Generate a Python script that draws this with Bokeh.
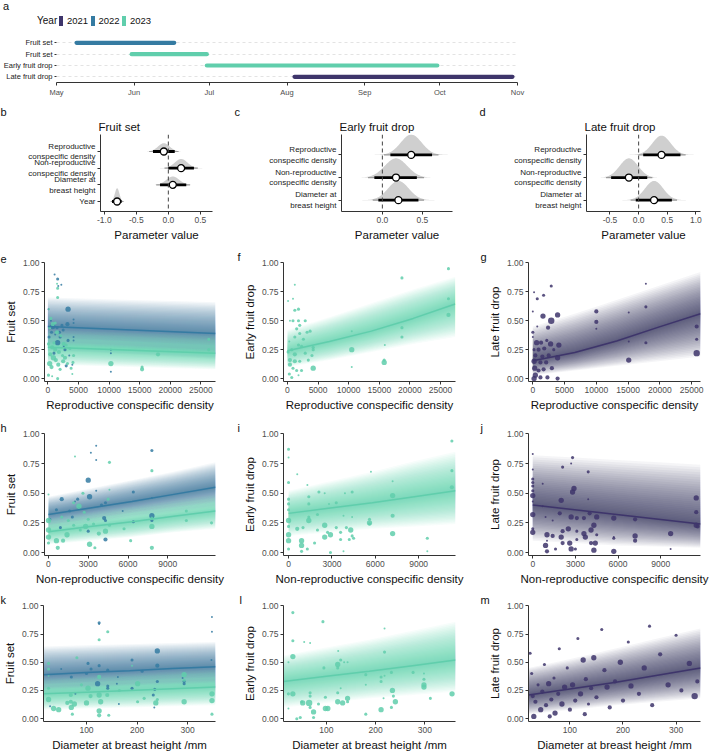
import numpy as np
from datetime import datetime
from bokeh.plotting import figure
from bokeh.models import (Range1d, FixedTicker, Span, Title, Div,
                          NumeralTickFormatter, MonthsTicker, DatetimeTickFormatter)
from bokeh.layouts import row, column
from bokeh.embed import file_html
from bokeh.resources import INLINE

FONT = "Liberation Sans"
YEAR_COLORS = {2021: "#3E356B", 2022: "#357BA2", 2023: "#60CEAC"}

# ---------------- panel a: sampling periods ----------------
A_LABELS = ["Fruit set", "Fruit set", "Early fruit drop", "Late fruit drop"]
A_YEARS = [2022, 2023, 2023, 2021]
A_START = ["2023-05-09", "2023-05-31", "2023-06-30", "2023-08-04"]
A_END = ["2023-06-17", "2023-06-30", "2023-09-30", "2023-10-30"]

# ---------------- panels b-d: posterior parameter estimates ----------------
B_LABELS = ["Reproductive\nconspecific density", "Non-reproductive\nconspecific density",
            "Diameter at\nbreast height", "Year"]
B_MU = [-0.07, 0.20, 0.07, -0.80]
B_SD = [0.09, 0.10, 0.10, 0.035]
B_LO66 = [-0.24, 0.00, -0.13, -0.88]
B_HI66 = [0.10, 0.40, 0.28, -0.73]
B_LO95 = [-0.30, -0.06, -0.19, -0.90]
B_HI95 = [0.16, 0.46, 0.34, -0.70]
B_HT = [0.5, 0.55, 0.5, 0.8]

C_LABELS = ["Reproductive\nconspecific density", "Non-reproductive\nconspecific density",
            "Diameter at\nbreast height"]
C_MU = [0.36, 0.17, 0.20]
C_SD = [0.13, 0.14, 0.13]
C_LO66 = [0.10, -0.10, -0.05]
C_HI66 = [0.62, 0.43, 0.45]
C_LO95 = [0.02, -0.18, -0.12]
C_HI95 = [0.70, 0.52, 0.52]
C_HT = [0.9, 0.85, 0.85]

D_MU = [0.40, -0.17, 0.27]
D_SD = [0.16, 0.16, 0.16]
D_LO66 = [0.08, -0.48, -0.05]
D_HI66 = [0.73, 0.15, 0.58]
D_LO95 = [0.00, -0.57, -0.14]
D_HI95 = [0.82, 0.24, 0.67]
D_HT = [0.85, 0.85, 0.85]

# ---------------- fitted curves (x, median, outer lower, outer upper) ----------------
FIT_E_X = [0, 6850, 13700, 20550, 27400]
FIT_E22 = ([0.45, 0.435, 0.42, 0.405, 0.39], [0.24, 0.23, 0.21, 0.19, 0.17], [0.70, 0.69, 0.68, 0.67, 0.66])
FIT_E23 = ([0.27, 0.258, 0.245, 0.233, 0.22], [0.12, 0.11, 0.10, 0.09, 0.08], [0.42, 0.41, 0.40, 0.39, 0.38])
FIT_F_X = [0, 6850, 13700, 20550, 27400]
FIT_F23 = ([0.24, 0.32, 0.41, 0.52, 0.645], [0.10, 0.16, 0.23, 0.30, 0.36], [0.42, 0.53, 0.65, 0.77, 0.88])
FIT_G_X = [0, 6600, 13200, 19800, 26400]
FIT_G21 = ([0.155, 0.225, 0.325, 0.445, 0.56], [0.03, 0.07, 0.11, 0.15, 0.19], [0.45, 0.56, 0.68, 0.80, 0.92])
FIT_H_X = [0, 3150, 6300, 9450, 12600]
FIT_H22 = ([0.32, 0.375, 0.43, 0.49, 0.55], [0.20, 0.25, 0.30, 0.34, 0.38], [0.47, 0.54, 0.61, 0.68, 0.76])
FIT_H23 = ([0.175, 0.22, 0.26, 0.305, 0.35], [0.07, 0.10, 0.13, 0.17, 0.20], [0.29, 0.34, 0.39, 0.44, 0.49])
FIT_I_X = [0, 2900, 5800, 8700, 11550]
FIT_I23 = ([0.33, 0.375, 0.42, 0.47, 0.52], [0.14, 0.17, 0.20, 0.22, 0.24], [0.52, 0.60, 0.68, 0.77, 0.85])
FIT_J_X = [0, 2950, 5900, 8850, 11800]
FIT_J21 = ([0.40, 0.36, 0.32, 0.28, 0.24], [0.10, 0.08, 0.06, 0.05, 0.04], [0.82, 0.80, 0.78, 0.76, 0.74])
FIT_K_X = [15, 100, 185, 270, 355]
FIT_K22 = ([0.39, 0.41, 0.425, 0.445, 0.46], [0.22, 0.23, 0.25, 0.26, 0.27], [0.64, 0.65, 0.66, 0.67, 0.68])
FIT_K23 = ([0.22, 0.235, 0.25, 0.265, 0.28], [0.08, 0.09, 0.10, 0.11, 0.12], [0.36, 0.38, 0.40, 0.42, 0.44])
FIT_L_X = [13, 100, 187, 275, 362]
FIT_L23 = ([0.33, 0.375, 0.42, 0.47, 0.52], [0.10, 0.14, 0.18, 0.21, 0.24], [0.56, 0.63, 0.70, 0.78, 0.86])
FIT_M_X = [22, 103, 184, 265, 346]
FIT_M21 = ([0.21, 0.265, 0.32, 0.385, 0.45], [0.04, 0.08, 0.12, 0.15, 0.18], [0.45, 0.53, 0.62, 0.71, 0.80])

# ---------------- observations (x, proportion, relative weight 1-5) ----------------
E_FS22 = [(1100,0.90,1),(1600,0.86,2),(2200,0.81,1),(1700,0.80,1),(3300,0.60,4),(3200,0.47,3),(4200,0.51,1),
          (4200,0.48,1),(800,0.45,4),(1500,0.44,2),(2500,0.42,2),(200,0.36,2),(1600,0.31,4),(3300,0.33,2),
          (4200,0.36,1),(4200,0.33,1),(2800,0.25,2),(3000,0.11,2),(10300,0.25,1),(10300,0.22,1),(600,0.40,2),
          (1200,0.38,1),(2000,0.36,2),(500,0.50,1),(2600,0.28,1),(1000,0.22,2),(3500,0.20,1),(4000,0.12,1),
          (10300,0.06,1),(100,0.60,1),(2300,0.46,2),(1900,0.40,2)]
E_FS23 = [(1500,0.82,1),(1600,0.78,2),(1600,0.70,2),(200,0.60,1),(500,0.52,2),(800,0.47,3),(1200,0.48,2),
          (300,0.44,2),(1500,0.40,3),(2100,0.37,2),(2600,0.30,3),(3000,0.29,2),(100,0.30,2),(700,0.27,3),
          (1200,0.25,3),(1800,0.23,3),(2400,0.20,2),(3600,0.26,2),(4200,0.20,2),(4100,0.14,2),(300,0.13,4),
          (600,0.10,3),(900,0.18,4),(1300,0.16,3),(1700,0.12,3),(2000,0.08,2),(2500,0.15,3),(3200,0.13,2),
          (100,0.03,2),(700,0.02,1),(1600,0.00,2),(4000,0.04,1),(10300,0.13,4),(15400,0.08,3),(15400,0.10,2),
          (18000,0.21,3),(26300,0.34,2),(26300,0.25,2),(400,0.21,3),(1000,0.31,2),(2800,0.18,3),(3800,0.09,2)]
F_EFD23 = [(1200,0.81,1),(100,0.67,1),(900,0.69,1),(1200,0.59,2),(1800,0.60,2),(400,0.50,1),(900,0.50,2),
           (1800,0.50,2),(2000,0.46,2),(2900,0.50,2),(3700,0.41,2),(3200,0.40,2),(2000,0.39,2),(1200,0.36,2),
           (300,0.32,1),(1800,0.29,2),(2300,0.28,2),(4200,0.27,2),(4200,0.25,2),(700,0.25,2),(100,0.23,2),
           (1200,0.21,3),(2900,0.22,2),(4000,0.20,2),(400,0.16,3),(1200,0.15,3),(2000,0.15,2),(3400,0.16,2),
           (4200,0.09,4),(400,0.12,3),(900,0.09,2),(1500,0.07,2),(2300,0.07,2),(300,0.04,2),(1800,0.03,1),
           (700,0.01,2),(10500,0.41,1),(10500,0.25,4),(10500,0.10,1),(15900,0.29,1),(15800,0.16,2),
           (15800,0.14,4),(18700,0.87,2),(18700,0.44,2),(18700,0.36,2),(26300,0.95,2),(26300,0.69,2),
           (26300,0.55,3),(1500,0.43,2),(2600,0.34,2)]
G_LFD21 = [(2900,0.80,2),(200,0.745,1),(1700,0.72,2),(700,0.69,2),(0,0.58,1),(1600,0.54,4),(3900,0.55,4),
           (2900,0.50,5),(2400,0.44,3),(0,0.40,2),(0,0.36,1),(700,0.45,1),(600,0.31,4),(1300,0.31,3),
           (2200,0.33,2),(2800,0.30,4),(4100,0.29,4),(200,0.25,2),(900,0.25,3),(1800,0.26,3),(3300,0.25,2),
           (400,0.20,3),(1500,0.19,3),(2500,0.20,3),(3900,0.18,4),(200,0.15,4),(1200,0.14,3),(2100,0.14,3),
           (3000,0.09,3),(300,0.09,4),(900,0.07,3),(1700,0.08,3),(400,0.03,4),(1200,0.01,3),(2300,0.01,3),
           (3900,0.00,3),(200,0.00,4),(10000,0.58,3),(10000,0.49,3),(10000,0.43,1),(15100,0.57,1),
           (15100,0.32,1),(15100,0.16,4),(17800,0.82,1),(17800,0.62,2),(17800,0.31,2),(25800,0.45,3),
           (25800,0.34,2),(25800,0.22,5)]
H_FS22 = [(3600,0.90,1),(3200,0.84,1),(3600,0.78,1),(7800,0.86,2),(3000,0.61,4),(3100,0.47,4),(1000,0.45,3),
          (2200,0.45,2),(4300,0.42,2),(6400,0.51,2),(600,0.36,2),(1600,0.35,2),(2300,0.37,2),(3600,0.52,1),
          (4200,0.29,3),(4300,0.27,2),(6400,0.26,2),(7800,0.31,4),(7800,0.27,2),(3000,0.18,2),(4300,0.11,3),
          (1800,0.30,2),(900,0.21,2),(5600,0.35,1),(7800,0.46,1),(4000,0.40,2),(2000,0.43,1),(100,0.28,2)]
H_FS23 = [(2000,0.81,1),(4600,0.76,2),(7800,0.69,2),(0,0.49,1),(2600,0.50,2),(4600,0.53,1),(2300,0.39,4),
          (1900,0.42,2),(0,0.27,4),(0,0.19,4),(0,0.13,4),(0,0.08,2),(600,0.10,4),(1100,0.10,3),(1400,0.15,4),
          (1500,0.27,2),(1900,0.23,2),(2400,0.19,2),(2800,0.22,4),(3000,0.28,2),(3400,0.24,2),(3800,0.16,3),
          (4300,0.18,4),(4600,0.23,2),(3100,0.07,4),(3500,0.04,2),(700,0.04,3),(6200,0.10,2),(7800,0.22,4),
          (7800,0.04,3),(7800,0.29,2),(10400,0.35,2),(10400,0.27,2),(12300,0.25,2),(1000,0.30,2),
          (2700,0.34,2),(4500,0.45,2),(5700,0.20,2)]
I_EFD23 = [(0,0.87,2),(0,0.80,1),(600,0.66,1),(0,0.59,2),(0,0.45,2),(0,0.41,2),(0,0.36,2),(0,0.27,4),
           (0,0.22,2),(0,0.15,4),(0,0.10,4),(0,0.03,2),(1300,0.57,1),(1400,0.47,2),(1400,0.41,2),(1400,0.30,2),
           (1400,0.27,4),(2100,0.51,2),(2500,0.50,1),(2000,0.32,2),(2800,0.41,1),(3300,0.42,2),(3900,0.50,1),
           (4400,0.51,2),(4400,0.30,1),(3800,0.31,1),(600,0.20,3),(1000,0.21,2),(2000,0.19,2),(2500,0.23,4),
           (2700,0.17,2),(2500,0.13,4),(2900,0.15,4),(3300,0.21,2),(3600,0.17,2),(3600,0.11,2),(4000,0.21,2),
           (4300,0.19,4),(4400,0.14,2),(4500,0.12,2),(4200,0.11,2),(900,0.10,4),(900,0.06,4),(900,0.01,2),
           (1300,0.03,2),(1800,0.08,2),(2900,0.00,2),(3800,0.01,1),(5700,0.68,1),(5600,0.28,2),(5600,0.25,4),
           (5600,0.24,2),(7200,0.60,1),(7200,0.48,4),(7200,0.31,3),(7200,0.16,4),(9600,0.12,2),(9600,0.01,1),
           (11300,0.94,2),(11300,0.69,2),(11300,0.55,3)]
J_LFD21 = [(0,0.83,1),(0,0.70,1),(0,0.62,2),(0,0.59,2),(0,0.56,2),(0,0.52,2),(0,0.48,4),(0,0.43,1),
           (0,0.32,4),(0,0.20,2),(0,0.17,4),(700,0.58,1),(700,0.39,1),(900,0.30,1),(1000,0.15,4),(1000,0.10,1),
           (900,0.06,4),(1000,0.01,3),(1400,0.27,1),(1400,0.14,3),(1600,0.03,2),(1900,0.33,3),(2000,0.44,4),
           (2100,0.72,2),(2100,0.18,3),(2000,0.13,4),(2100,0.08,3),(2500,0.20,4),(2600,0.08,4),(2700,0.03,4),
           (2700,0.30,4),(2700,0.75,1),(2800,0.80,2),(2800,0.51,4),(2900,0.54,4),(3100,0.29,3),(3100,0.18,2),
           (3100,0.11,2),(3000,0.03,2),(3600,0.29,3),(3600,0.16,4),(3700,0.13,4),(3900,0.68,2),(3900,0.45,1),
           (4000,0.33,3),(4100,0.19,4),(4100,0.08,3),(4300,0.23,4),(4400,0.08,4),(4300,0.02,4),(4500,0.30,4),
           (4500,0.15,2),(5700,0.29,4),(5700,0.13,1),(5700,0.12,2),(5700,0.01,4),(7200,0.28,3),(7200,0.14,4),
           (7200,0.10,3),(9700,0.16,4),(9700,0.03,1),(11500,0.46,4),(11500,0.34,3),(11500,0.23,4),(11600,0.22,3)]
K_FS22 = [(125,0.85,2),(125,0.84,1),(348,0.90,1),(348,0.77,1),(240,0.60,4),(240,0.47,3),(190,0.52,2),
          (103,0.49,2),(109,0.44,2),(125,0.47,2),(142,0.43,2),(70,0.37,2),(122,0.31,4),(142,0.29,2),
          (142,0.27,2),(190,0.27,2),(240,0.33,2),(293,0.33,2),(293,0.31,2),(290,0.36,1),(232,0.21,2),
          (78,0.22,1),(162,0.37,1),(164,0.13,1),(234,0.10,1),(347,0.52,1),(28,0.11,1),(160,0.31,1),
          (100,0.40,2),(50,0.44,1),(210,0.42,2),(235,0.26,2)]
K_FS23 = [(125,0.70,2),(142,0.77,2),(25,0.44,2),(25,0.49,2),(81,0.54,2),(25,0.27,2),(25,0.17,4),(35,0.09,4),
          (45,0.08,4),(62,0.14,3),(69,0.21,3),(69,0.15,3),(70,0.10,4),(72,0.04,2),(76,0.13,4),(100,0.14,4),
          (103,0.27,4),(108,0.20,3),(125,0.37,3),(125,0.21,4),(125,0.07,4),(125,0.03,3),(141,0.21,3),
          (144,0.03,2),(128,0.15,4),(201,0.15,2),(201,0.31,4),(214,0.18,2),(237,0.14,4),(240,0.17,2),
          (293,0.15,4),(293,0.39,4),(293,0.34,2),(348,0.22,4),(348,0.16,4),(348,0.04,2),(25,0.38,1),
          (190,0.47,1),(165,0.25,2),(90,0.30,2)]
L_EFD23 = [(32,0.94,2),(93,0.86,2),(32,0.69,2),(55,0.68,1),(67,0.67,1),(218,0.80,1),(218,0.59,2),(32,0.55,4),
           (23,0.50,1),(124,0.60,1),(129,0.52,2),(123,0.48,4),(123,0.45,2),(136,0.50,1),(143,0.50,1),
           (95,0.45,2),(180,0.39,2),(180,0.30,1),(211,0.37,2),(211,0.33,2),(218,0.38,1),(232,0.41,2),
           (276,0.41,2),(298,0.40,1),(298,0.35,2),(298,0.30,4),(298,0.28,4),(23,0.22,2),(32,0.22,4),
           (50,0.15,2),(52,0.14,4),(67,0.23,2),(67,0.20,2),(65,0.14,5),(67,0.10,2),(74,0.06,4),(74,0.01,2),
           (84,0.13,2),(98,0.19,2),(98,0.09,4),(103,0.09,4),(123,0.23,2),(129,0.27,1),(123,0.15,4),
           (133,0.14,4),(143,0.18,4),(143,0.15,2),(180,0.04,2),(211,0.08,4),(216,0.18,1),(234,0.25,4),
           (236,0.20,2),(240,0.15,4),(232,0.10,2),(311,0.18,2),(355,0.22,4),(23,0.09,1),(40,0.00,2),(47,0.01,2)]
M_LFD21 = [(25,0.58,2),(28,0.40,2),(30,0.20,3),(32,0.02,4),(35,0.15,3),(40,0.30,2),(45,0.08,4),(48,0.24,3),
           (52,0.48,2),(55,0.12,3),(60,0.31,4),(62,0.02,3),(65,0.17,3),(70,0.36,2),(72,0.05,4),(78,0.22,3),
           (80,0.62,2),(85,0.13,4),(90,0.28,4),(95,0.45,2),(100,0.08,3),(105,0.30,4),(110,0.16,3),(115,0.71,2),
           (120,0.22,4),(125,0.52,4),(128,0.04,3),(130,0.35,3),(135,0.13,2),(140,0.27,3),(145,0.54,4),
           (150,0.19,3),(160,0.79,2),(165,0.43,3),(170,0.28,4),(175,0.10,3),(185,0.33,3),(195,0.50,4),
           (200,0.16,3),(210,0.68,2),(215,0.29,4),(230,0.22,3),(240,0.45,4),(250,0.82,2),(255,0.12,3),
           (270,0.57,3),(285,0.30,4),(300,0.74,2),(310,0.25,3),(325,0.49,4),(335,0.20,5),(340,0.33,3)]

RATE_TICKS = [0, 0.25, 0.5, 0.75, 1.0]
REP_TICKS = [0, 5000, 10000, 15000, 20000, 25000]
NONREP_TICKS = [0, 3000, 6000, 9000]
DBH_TICKS = [100, 200, 300]


# ---------------- helpers ----------------
def style_axis(ax, tick_size="8.5px", label_size="11.5px"):
    ax.axis_line_color = "#333333"
    ax.axis_line_width = 1
    ax.major_tick_line_color = "#333333"
    ax.major_tick_out = 3
    ax.major_tick_in = 0
    ax.minor_tick_line_color = None
    ax.major_label_text_font = FONT
    ax.major_label_text_font_size = tick_size
    ax.major_label_text_color = "#4d4d4d"
    ax.axis_label_text_font = FONT
    ax.axis_label_text_font_size = label_size
    ax.axis_label_text_font_style = "normal"
    ax.axis_label_text_color = "#111111"
    ax.major_label_standoff = 2
    ax.axis_label_standoff = 3


def base(w, h, bl, br, bt, bb, xr, yr, **kw):
    p = figure(width=w, height=h, x_range=xr, y_range=yr, output_backend="svg",
               toolbar_location=None, min_border_left=bl, min_border_right=br,
               min_border_top=bt, min_border_bottom=bb, **kw)
    p.outline_line_color = None
    p.xgrid.visible = False
    p.ygrid.visible = False
    p.background_fill_color = "white"
    p.border_fill_color = "white"
    for ax in list(p.xaxis) + list(p.yaxis):
        style_axis(ax)
    return p


def add_title(p, txt, cx, size="11px", standoff=0, hpad=4):
    p.add_layout(Title(text=txt, align="left", offset=cx - p.min_border_left - hpad, text_font=FONT,
                       text_font_size=size, text_font_style="normal", text_color="#111111",
                       standoff=standoff), "above")


def ribbon(p, xs, fit, color, n=30, alpha=0.05):
    mid, lo, hi = (np.array(v, dtype=float) for v in fit)
    for k in range(1, n + 1):
        f = (k / n) ** 1.3
        p.varea(x=xs, y1=mid - f * (mid - lo), y2=mid + f * (hi - mid),
                fill_color=color, fill_alpha=alpha)


def points(p, obs, color):
    xs = [o[0] for o in obs]
    ys = [o[1] for o in obs]
    sz = [0.9 + 1.1 * o[2] for o in obs]
    p.scatter(xs, ys, size=sz, fill_color=color, fill_alpha=0.85, line_color=None)


def scatter_panel(dims, xr, xticks, xlabel, ylabel, fits, obs, tag, lx):
    w, h, bl, br, bt, bb = dims
    p = base(w, h, bl, br, bt, bb, Range1d(*xr), Range1d(-0.025, 1.003))
    for xs, fit, year in fits:
        ribbon(p, xs, fit, YEAR_COLORS[year])
    for data, year in obs:
        points(p, data, YEAR_COLORS[year])
    for xs, fit, year in fits:
        p.line(xs, fit[0], line_color=YEAR_COLORS[year], line_width=1.5)
    p.xaxis.ticker = FixedTicker(ticks=xticks)
    p.xaxis.formatter = NumeralTickFormatter(format="0")
    p.yaxis.ticker = FixedTicker(ticks=RATE_TICKS)
    p.yaxis.formatter = NumeralTickFormatter(format="0.00")
    p.xaxis.axis_label = xlabel
    p.yaxis.axis_label = ylabel
    add_title(p, tag, lx)
    return p


def eye_panel(dims, xr, yr, xticks, title, labels, mu, sd, lo66, hi66, lo95, hi95, ht, tag, lx):
    w, h, bl, br, bt, bb = dims
    p = base(w, h, bl, br, bt, bb, Range1d(*xr), Range1d(*yr))
    n = len(labels)
    rows = [n - i for i in range(n)]
    p.add_layout(Span(location=0, dimension="height", line_color="#444444",
                      line_width=1, line_dash="4 3"))
    for i in range(n):
        xs = np.linspace(mu[i] - 3.5 * sd[i], mu[i] + 3.5 * sd[i], 90)
        ys = rows[i] + ht[i] * np.exp(-0.5 * ((xs - mu[i]) / sd[i]) ** 2)
        p.varea(x=xs, y1=np.full_like(xs, rows[i]), y2=ys, fill_color="#cfcfcf")
    p.segment(lo95, rows, hi95, rows, line_color="#9a9a9a", line_width=1.2)
    p.segment(lo66, rows, hi66, rows, line_color="black", line_width=2.8)
    p.scatter(mu, rows, size=7, fill_color="white", line_color="black", line_width=1.3)
    p.xaxis.ticker = FixedTicker(ticks=xticks)
    p.xaxis.formatter = NumeralTickFormatter(format="0.0")
    p.xaxis.axis_label = "Parameter value"
    p.yaxis.ticker = FixedTicker(ticks=rows)
    p.yaxis.major_label_overrides = {r: lab for r, lab in zip(rows, labels)}
    p.yaxis.major_label_text_font_size = "8px"
    p.yaxis.major_label_text_color = "#222222"
    add_title(p, title, bl, size="11.5px", standoff=3, hpad=2)
    add_title(p, tag, lx)
    return p


# ---------------- header: panel letter a and year legend (HTML) ----------------
parts = ['<div style="position:relative;width:709px;height:30px;overflow:hidden;'
         'font-family:\'Liberation Sans\',Arial,sans-serif;color:#111111;">',
         '<span style="position:absolute;left:3px;top:0px;font-size:11px;line-height:12px;">a</span>',
         '<span style="position:absolute;left:37px;top:15px;font-size:10px;line-height:12px;">Year</span>']
for k, (yr_, col_) in enumerate(sorted(YEAR_COLORS.items())):
    x0 = 59 + 31.5 * k
    parts.append(f'<span style="position:absolute;left:{x0}px;top:16px;width:4px;height:10px;'
                 f'background:{col_};"></span>')
    parts.append(f'<span style="position:absolute;left:{x0 + 8}px;top:15px;font-size:9.5px;'
                 f'line-height:12px;">{yr_}</span>')
parts.append('</div>')
header = Div(text="".join(parts), width=709, height=30, margin=(0, 0, 0, 0))

# ---------------- panel a ----------------
pa = base(709, 71, 52, 192, 7, 19,
          Range1d(datetime(2023, 5, 1), datetime(2023, 11, 1)), Range1d(0.5, 4.47),
          x_axis_type="datetime")
na = len(A_LABELS)
a_rows = [na - i for i in range(na)]
for i in range(na):
    pa.segment(x0=[datetime.fromisoformat(A_START[i])], y0=[a_rows[i]],
               x1=[datetime.fromisoformat(A_END[i])], y1=[a_rows[i]],
               line_color=YEAR_COLORS[A_YEARS[i]], line_width=4.2, line_cap="round")
pa.xaxis.ticker = MonthsTicker(months=list(range(1, 13)))
pa.xaxis.formatter = DatetimeTickFormatter(months="%b", days="%b")
pa.xaxis.major_label_text_font_size = "7.5px"
pa.yaxis.ticker = FixedTicker(ticks=a_rows)
pa.yaxis.major_label_overrides = {r: lab for r, lab in zip(a_rows, A_LABELS)}
pa.yaxis.major_label_text_font_size = "7.5px"
pa.yaxis.major_label_text_color = "#222222"
pa.yaxis.axis_line_color = None
pa.yaxis.major_tick_out = 2
pa.ygrid.visible = True
pa.ygrid.ticker = FixedTicker(ticks=a_rows)
pa.ygrid.grid_line_color = "#dcdcdc"
pa.ygrid.grid_line_dash = "3 3"
pa.ygrid.grid_line_width = 0.8

# ---------------- panels b-d ----------------
pb = eye_panel((230, 147, 100, 18, 33, 37), (-1.06, 0.69), (0.4, 5.02), [-1.0, -0.5, 0.0, 0.5],
               "Fruit set", B_LABELS, B_MU, B_SD, B_LO66, B_HI66, B_LO95, B_HI95, B_HT, "b", 4)
pc = eye_panel((240, 147, 111, 18, 33, 37), (-0.51, 0.875), (0.5, 3.9), [0.0, 0.5],
               "Early fruit drop", C_LABELS, C_MU, C_SD, C_LO66, C_HI66, C_LO95, C_HI95, C_HT, "c", 8)
pd_ = eye_panel((239, 147, 116, 9, 33, 37), (-0.91, 1.08), (0.5, 3.9), [-0.5, 0.0, 0.5, 1.0],
                "Late fruit drop", C_LABELS, D_MU, D_SD, D_LO66, D_HI66, D_LO95, D_HI95, D_HT, "d", 13)

# ---------------- panels e-m ----------------
REP = "Reproductive conspecific density"
NON = "Non-reproductive conspecific density"
DBH = "Diameter at breast height /mm"
pe = scatter_panel((230, 165, 44, 15, 14, 31), (-550, 27400), REP_TICKS, REP, "Fruit set",
                   [(FIT_E_X, FIT_E22, 2022), (FIT_E_X, FIT_E23, 2023)],
                   [(E_FS22, 2022), (E_FS23, 2023)], "e", 4)
pf = scatter_panel((240, 165, 53, 15, 14, 31), (-650, 27450), REP_TICKS, REP, "Early fruit drop",
                   [(FIT_F_X, FIT_F23, 2023)], [(F_EFD23, 2023)], "f", 11)
pg = scatter_panel((239, 165, 58, 9, 14, 31), (-680, 26400), REP_TICKS, REP, "Late fruit drop",
                   [(FIT_G_X, FIT_G21, 2021)], [(G_LFD21, 2021)], "g", 14)
ph = scatter_panel((230, 175, 44, 15, 20, 33), (-300, 12600), NONREP_TICKS, NON, "Fruit set",
                   [(FIT_H_X, FIT_H22, 2022), (FIT_H_X, FIT_H23, 2023)],
                   [(H_FS22, 2022), (H_FS23, 2023)], "h", 4)
pi = scatter_panel((240, 175, 53, 15, 20, 33), (-350, 11550), NONREP_TICKS, NON, "Early fruit drop",
                   [(FIT_I_X, FIT_I23, 2023)], [(I_EFD23, 2023)], "i", 11)
pj = scatter_panel((239, 175, 58, 9, 20, 33), (-300, 11800), NONREP_TICKS, NON, "Late fruit drop",
                   [(FIT_J_X, FIT_J21, 2021)], [(J_LFD21, 2021)], "j", 14)
pk = scatter_panel((230, 165, 43, 15, 17, 28), (15, 355), DBH_TICKS, DBH, "Fruit set",
                   [(FIT_K_X, FIT_K22, 2022), (FIT_K_X, FIT_K23, 2023)],
                   [(K_FS22, 2022), (K_FS23, 2023)], "k", 4)
pl = scatter_panel((240, 165, 53, 15, 17, 28), (13, 362), DBH_TICKS, DBH, "Early fruit drop",
                   [(FIT_L_X, FIT_L23, 2023)], [(L_EFD23, 2023)], "l", 13)
pm = scatter_panel((239, 165, 58, 9, 17, 28), (22, 346), DBH_TICKS, DBH, "Late fruit drop",
                   [(FIT_M_X, FIT_M21, 2021)], [(M_LFD21, 2021)], "m", 14)

layout = column(header, pa, row(pb, pc, pd_), row(pe, pf, pg), row(ph, pi, pj), row(pk, pl, pm))
open("out.html", "w").write(file_html(layout, INLINE))
